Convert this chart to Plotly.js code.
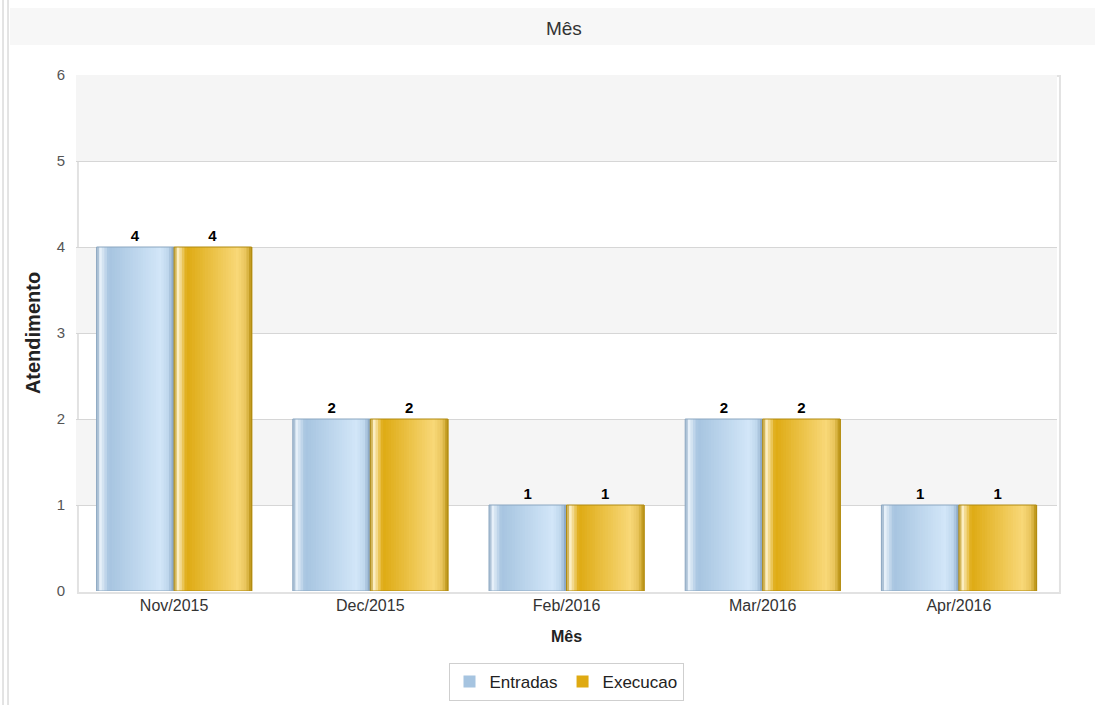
<!DOCTYPE html>
<html>
<head>
<meta charset="utf-8">
<script src="https://cdn.plot.ly/plotly-3.0.1.min.js"></script>
<style>html,body{margin:0;padding:0;background:#fff;}#chart{width:1095px;height:705px;}</style>
</head>
<body>
<div id="chart"></div>
<script>
const categories = ["Nov/2015", "Dec/2015", "Feb/2016", "Mar/2016", "Apr/2016"];
const entradas = [4, 2, 1, 2, 1];
const execucao = [4, 2, 1, 2, 1];
const seriesNames = ["Entradas", "Execucao"];
const yTicks = [0, 1, 2, 3, 4, 5, 6];

const BAR_W = 0.395;
const STRIPS = 30;

const blueStops = [[0, [130,160,190]], [0.04, [236,244,251]], [0.16, [166,196,224]], [0.82, [210,230,248]], [0.93, [190,214,236]], [1, [128,158,188]]];
const goldStops = [[0, [180,140,10]], [0.04, [255,244,210]], [0.16, [222,170,18]], [0.82, [248,216,120]], [0.93, [232,196,90]], [1, [184,144,16]]];

function interp(stops, t) {
  for (let i = 0; i < stops.length - 1; i++) {
    const [t0, c0] = stops[i], [t1, c1] = stops[i + 1];
    if (t >= t0 && t <= t1) {
      const f = (t - t0) / (t1 - t0 || 1);
      return 'rgb(' + c0.map((v, k) => Math.round(v + (c1[k] - v) * f)).join(',') + ')';
    }
  }
  const c = stops[stops.length - 1][1];
  return 'rgb(' + c.join(',') + ')';
}

const FONT = 'Liberation Sans, Arial, sans-serif';
const traces = [];
function addSeries(values, name, stops, offset, edge, legendColor) {
  const sw = BAR_W / STRIPS;
  for (let i = 0; i < STRIPS; i++) {
    traces.push({
      type: 'bar', x: categories, y: values,
      width: sw * 1.3, offset: offset + i * sw,
      marker: {color: interp(stops, (i + 0.5) / STRIPS), line: {width: 0}},
      showlegend: false, hoverinfo: 'skip'
    });
  }
  traces.push({
    type: 'bar', x: categories, y: values, name: name,
    width: BAR_W, offset: offset,
    marker: {color: 'rgba(0,0,0,0)', line: {color: edge, width: 1}},
    text: values.map(String), textposition: 'outside', cliponaxis: false,
    textfont: {family: FONT, size: 15, color: '#000', weight: 'bold'},
    showlegend: false
  });
  traces.push({
    type: 'bar', x: [categories[0]], y: [null], name: name,
    marker: {color: legendColor}, showlegend: true, hoverinfo: 'skip'
  });
}
addSeries(entradas, seriesNames[0], blueStops, -BAR_W, '#8aa6c0', '#a6c4e0');
addSeries(execucao, seriesNames[1], goldStops, 0, '#b08a10', '#dfaa12');

const L = 76, R = 38, T = 75, B = 114, W = 1095, H = 705;
const pw = W - L - R, ph = H - T - B;
const px = v => (v - L) / pw;
const py = v => (H - B - v) / ph;

const shapes = [
  {type: 'rect', xref: 'paper', yref: 'paper', x0: px(10), x1: px(1095), y0: py(45), y1: py(8), fillcolor: '#f7f7f7', line: {width: 0}, layer: 'below'},
  {type: 'line', xref: 'paper', yref: 'paper', x0: px(3), x1: px(3), y0: py(705), y1: py(0), line: {color: '#c8c8c8', width: 1}},
  {type: 'line', xref: 'paper', yref: 'paper', x0: px(8), x1: px(8), y0: py(705), y1: py(0), line: {color: '#c8c8c8', width: 1}},
  {type: 'rect', xref: 'paper', yref: 'paper', x0: 0.002, x1: 1.003, y0: -0.004, y1: 0.998, fillcolor: 'rgba(0,0,0,0)', line: {color: '#e2e2e2', width: 2}, layer: 'below'}
];
[[1, 2], [3, 4], [5, 6]].forEach(([a, b]) => shapes.push({type: 'rect', xref: 'paper', yref: 'y', x0: 0, x1: 1, y0: a, y1: b, fillcolor: '#f5f5f5', line: {width: 0}, layer: 'below'}));

const layout = {
  width: W, height: H,
  margin: {l: L, r: R, t: T, b: B, autoexpand: false},
  paper_bgcolor: '#fff', plot_bgcolor: '#fff',
  font: {family: FONT, color: '#333'},
  title: {text: 'Mês', x: 0.515, xanchor: 'center', y: 1 - 28 / H, yanchor: 'middle', font: {size: 19, color: '#333'}},
  barmode: 'overlay',
  xaxis: {
    type: 'category', categoryorder: 'array', categoryarray: categories,
    showgrid: false, zeroline: false, showline: false, ticks: '', ticklabelstandoff: 3,
    tickfont: {size: 16, color: '#333'},
    title: {text: 'Mês', font: {size: 16, color: '#222', weight: 'bold'}, standoff: 17},
    automargin: false
  },
  yaxis: {
    range: [0, 6], tickvals: yTicks, showgrid: true, gridcolor: '#d6d6d6', gridwidth: 1,
    zeroline: false, showline: false, ticks: '', ticklabelstandoff: 10,
    tickfont: {size: 15, color: '#555'},
    title: {text: 'Atendimento', font: {size: 20, color: '#222', weight: 'bold'}, standoff: 10},
    automargin: false
  },
  shapes: shapes,
  legend: {
    orientation: 'h', x: px(566), xanchor: 'center', y: py(682), yanchor: 'middle',
    bordercolor: '#cfcfcf', borderwidth: 1, bgcolor: '#fff',
    font: {size: 17, color: '#222'}, traceorder: 'normal'
  },
  showlegend: true
};

Plotly.newPlot('chart', traces, layout, {displayModeBar: false, staticPlot: true});
</script>
</body>
</html>
